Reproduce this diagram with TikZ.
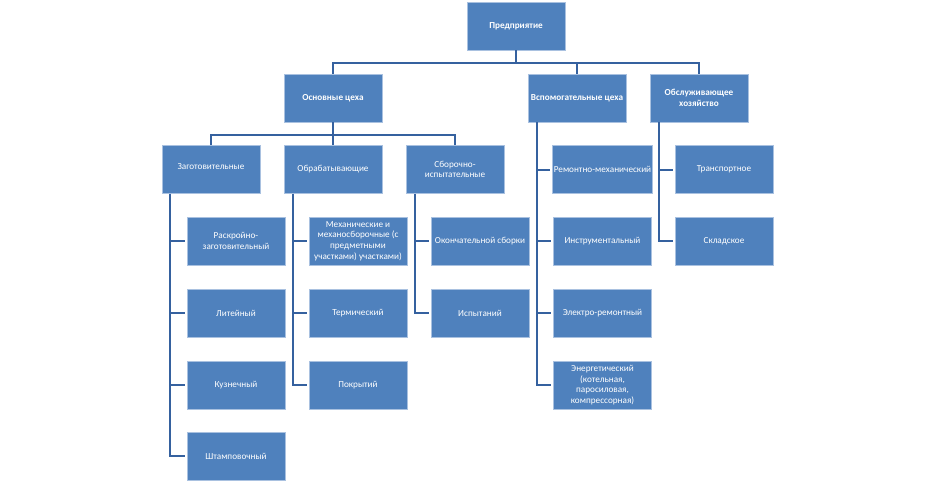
\documentclass[tikz,border=0pt]{standalone}
\usepackage{fontspec}
\setmainfont{Carlito}
\begin{document}
\begin{tikzpicture}[x=1pt,y=-1pt,
  box/.style={rectangle, fill=boxblue, draw=boxedge, line width=0.7pt,
    minimum width=98pt, minimum height=48pt, inner sep=1pt, align=center,
    text=white, font=\fontsize{9.2}{10.6}\selectfont},
  topbox/.style={box, font=\fontsize{9.2}{10.6}\selectfont\bfseries},
  conn/.style={draw=lineblue, line width=2pt}]
\definecolor{boxblue}{HTML}{4F81BD}
\definecolor{boxedge}{HTML}{A9C1E0}
\definecolor{lineblue}{HTML}{35619F}
\useasboundingbox (0,0) rectangle (936,483);
% level 0
\node[topbox] (P) at (516,26) {Предприятие};
% level 1
\node[topbox] (O) at (333,98) {Основные цеха};
\node[topbox] (V) at (577,98) {Вспомогательные цеха};
\node[topbox] (S) at (699,98) {Обслуживающее\\хозяйство};
% level 2
\node[box] (Z) at (211,169.5) {\raisebox{6pt}{Заготовительные}};
\node[box] (B) at (333,169.5) {Обрабатывающие};
\node[box] (C) at (455,169.5) {Сборочно-\\испытательные};
% children of Z
\node[box] (Z1) at (236,241) {Раскройно-\\заготовительный};
\node[box] (Z2) at (236,313) {Литейный};
\node[box] (Z3) at (236,385) {Кузнечный};
\node[box] (Z4) at (236,456) {Штамповочный};
% children of B
\node[box] (B1) at (358,241) {Механические и\\механосборочные (с\\предметными\\участками) участками)};
\node[box] (B2) at (358,313) {Термический};
\node[box] (B3) at (358,385) {Покрытий};
% children of C
\node[box] (C1) at (480,241) {Окончательной сборки};
\node[box] (C2) at (480,313) {Испытаний};
% children of V
\node[box] (V1) at (602.5,169.5) {Ремонтно-механический};
\node[box] (V2) at (602.5,241) {Инструментальный};
\node[box] (V3) at (602.5,313) {Электро-ремонтный};
\node[box] (V4) at (602.5,385) {Энергетический\\(котельная,\\паросиловая,\\компрессорная)};
% children of S
\node[box] (S1) at (724,169.5) {Транспортное};
\node[box] (S2) at (724,241) {Складское};
% connectors level 0 -> 1
\draw[conn] (P.south) -- ++(0,13) -| (O.north);
\draw[conn] (P.south) -- ++(0,13) -| (V.north);
\draw[conn] (P.south) -- ++(0,13) -| (S.north);
% level 1 -> 2
\draw[conn] (O.south) -- ++(0,13) -| (Z.north);
\draw[conn] (O.south) -- ++(0,13) -| (B.north);
\draw[conn] (O.south) -- ++(0,13) -| (C.north);
% side connectors
\foreach \n in {Z1,Z2,Z3,Z4} \draw[conn] ([xshift=8pt]Z.south west) |- ([xshift=-2pt]\n.west);
\foreach \n in {B1,B2,B3} \draw[conn] ([xshift=9pt]B.south west) |- ([xshift=-2pt]\n.west);
\foreach \n in {C1,C2} \draw[conn] ([xshift=9pt]C.south west) |- ([xshift=-2pt]\n.west);
\foreach \n in {V1,V2,V3,V4} \draw[conn] ([xshift=9pt]V.south west) |- ([xshift=-2pt]\n.west);
\foreach \n in {S1,S2} \draw[conn] ([xshift=9pt]S.south west) |- ([xshift=-2pt]\n.west);
\end{tikzpicture}
\end{document}
